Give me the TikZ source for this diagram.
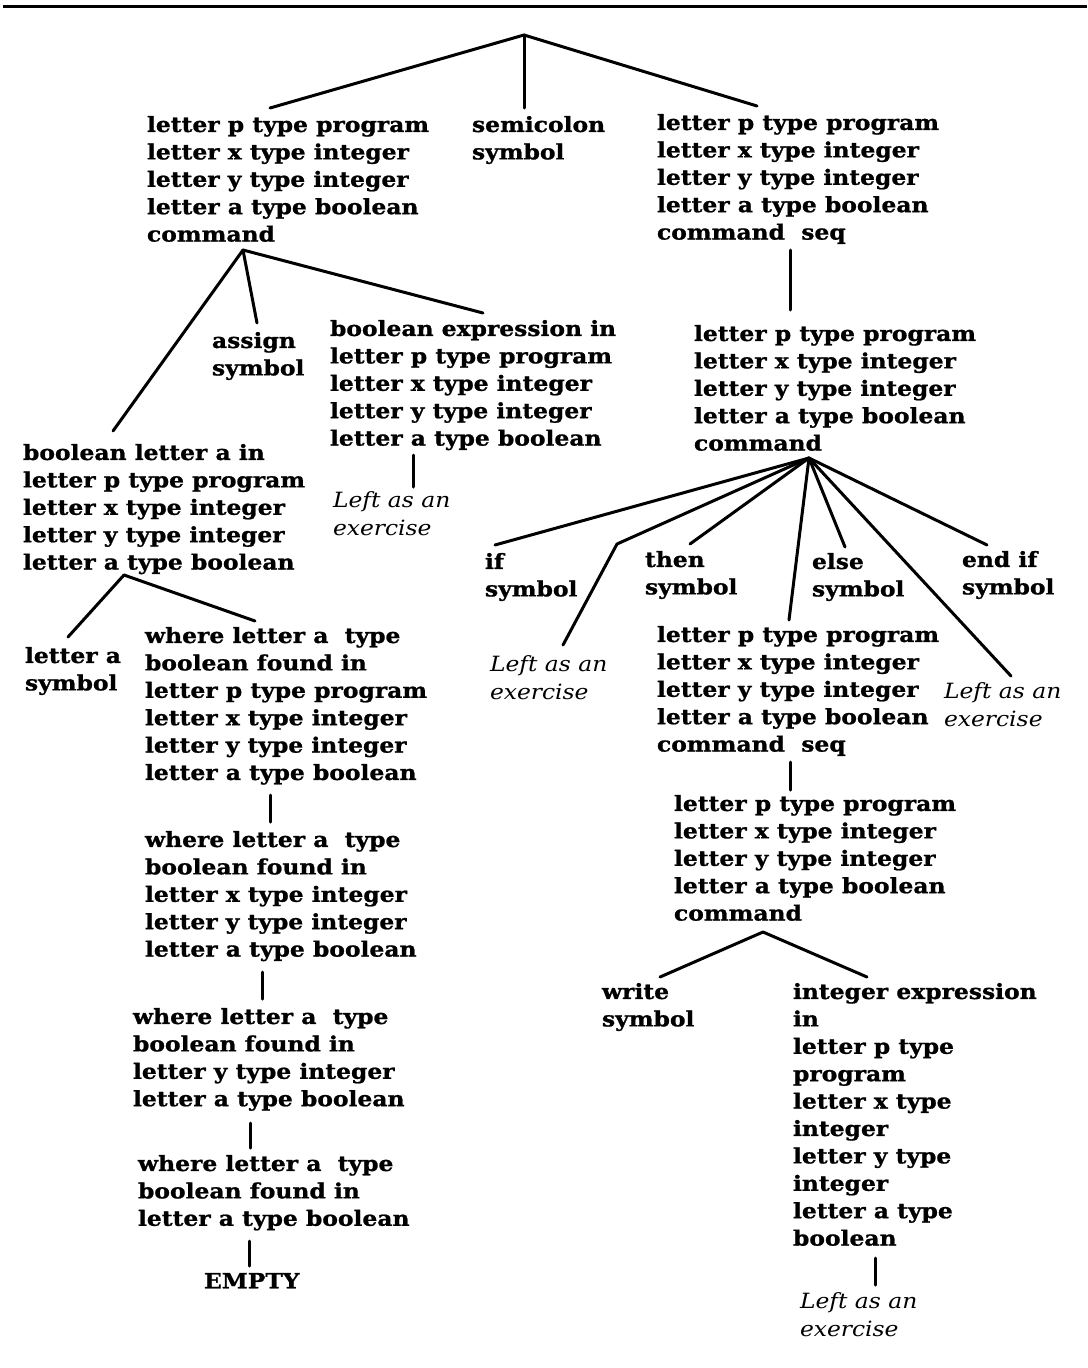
\documentclass[tikz,border=0pt]{standalone}
\usepackage{fontspec}
\setmainfont{DejaVu Serif}[FakeStretch=1.115, BoldFeatures={FakeBold=1}]
\begin{document}
\begin{tikzpicture}[x=1pt,y=-1pt,
  lbl/.style={anchor=north west, inner sep=0pt, outer sep=0pt, align=left, font=\fontsize{21}{27.4}\selectfont\bfseries},
  exer/.style={anchor=north west, inner sep=0pt, outer sep=0pt, align=left, font=\fontsize{21}{27.4}\selectfont\itshape},
  conn/.style={line width=3pt, line cap=round, line join=round}]
\fill[white] (0,0) rectangle (1087,1368);
\useasboundingbox (0,0) rectangle (1087,1368);
\coordinate (ruleL) at (3,6.5);
\coordinate (ruleR) at (1087,6.5);
\draw[line width=3.2pt] (ruleL) -- (ruleR);

% nodes
\node[lbl] (A) at (147,116) {letter p type program\\letter x type integer\\letter y type integer\\letter a type boolean\\command};
\node[lbl] (semi) at (472,116) {semicolon\\symbol};
\node[lbl] (B) at (657,114) {letter p type program\\letter x type integer\\letter y type integer\\letter a type boolean\\command\ \ seq};
\node[lbl] (assign) at (212,332) {assign\\symbol};
\node[lbl] (bexp) at (330,320) {boolean expression in\\letter p type program\\letter x type integer\\letter y type integer\\letter a type boolean};
\node[exer] (ex1) at (333,492) {Left as an\\exercise};
\node[lbl] (bla) at (23,444) {boolean letter a in\\letter p type program\\letter x type integer\\letter y type integer\\letter a type boolean};
\node[lbl] (lasym) at (25,647) {letter a\\symbol};
\node[lbl] (w1) at (145,627) {where letter a\ \ type\\boolean found in\\letter p type program\\letter x type integer\\letter y type integer\\letter a type boolean};
\node[lbl] (w2) at (145,831) {where letter a\ \ type\\boolean found in\\letter x type integer\\letter y type integer\\letter a type boolean};
\node[lbl] (w3) at (133,1008) {where letter a\ \ type\\boolean found in\\letter y type integer\\letter a type boolean};
\node[lbl] (w4) at (138,1155) {where letter a\ \ type\\boolean found in\\letter a type boolean};
\node[lbl] (empty) at (204,1273) {EMPTY};
\node[lbl] (C) at (694,325) {letter p type program\\letter x type integer\\letter y type integer\\letter a type boolean\\command};
\node[lbl] (ifs) at (485,553) {if\\symbol};
\node[lbl] (thens) at (645,551) {then\\symbol};
\node[lbl] (elses) at (812,553) {else\\symbol};
\node[lbl] (endifs) at (962,551) {end if\\symbol};
\node[exer] (ex2) at (490,656) {Left as an\\exercise};
\node[lbl] (C2) at (657,626) {letter p type program\\letter x type integer\\letter y type integer\\letter a type boolean\\command\ \ seq};
\node[exer] (ex3) at (944,683) {Left as an\\exercise};
\node[lbl] (C3) at (674,795) {letter p type program\\letter x type integer\\letter y type integer\\letter a type boolean\\command};
\node[lbl] (writes) at (602,983) {write\\symbol};
\node[lbl] (intexp) at (793,983) {integer expression\\in\\letter p type\\program\\letter x type\\integer\\letter y type\\integer\\letter a type\\boolean};
\node[exer] (ex4) at (800,1293) {Left as an\\exercise};

% connector points
\coordinate (root) at (524,35);
\coordinate (Atop) at (270,108);
\coordinate (semitop) at (524,108);
\coordinate (Btop) at (757,106);
\coordinate (Abot) at (243,250);
\coordinate (blatop) at (113,431);
\coordinate (assigntop) at (257,323);
\coordinate (bexptop) at (483,313);
\coordinate (bexpbot) at (413,455);
\coordinate (ex1top) at (413,487);
\coordinate (blabot) at (124,575);
\coordinate (lasymtop) at (68,637);
\coordinate (w1top) at (255,621);
\coordinate (w1bot) at (270,795);
\coordinate (w2top) at (270,822);
\coordinate (w2bot) at (262,972);
\coordinate (w3top) at (262,999);
\coordinate (w3bot) at (250,1123);
\coordinate (w4top) at (250,1148);
\coordinate (w4bot) at (249,1241);
\coordinate (emptytop) at (249,1266);
\coordinate (Bbot) at (790,250);
\coordinate (Ctop) at (790,310);
\coordinate (Cbot) at (809,458);
\coordinate (iftop) at (495,545);
\coordinate (bend) at (617,544);
\coordinate (ex2top) at (563,645);
\coordinate (thentop) at (690,544);
\coordinate (C2top) at (789,620);
\coordinate (elsetop) at (845,547);
\coordinate (ex3top) at (1011,676);
\coordinate (endiftop) at (987,545);
\coordinate (C2bot) at (790,762);
\coordinate (C3top) at (790,790);
\coordinate (C3bot) at (763,932);
\coordinate (writetop) at (660,977);
\coordinate (inttop) at (867,977);
\coordinate (intbot) at (875,1258);
\coordinate (ex4top) at (875,1285);

% connectors
\draw[conn] (root) -- (Atop);
\draw[conn] (root) -- (semitop);
\draw[conn] (root) -- (Btop);
\draw[conn] (Abot) -- (blatop);
\draw[conn] (Abot) -- (assigntop);
\draw[conn] (Abot) -- (bexptop);
\draw[conn] (bexpbot) -- (ex1top);
\draw[conn] (blabot) -- (lasymtop);
\draw[conn] (blabot) -- (w1top);
\draw[conn] (w1bot) -- (w2top);
\draw[conn] (w2bot) -- (w3top);
\draw[conn] (w3bot) -- (w4top);
\draw[conn] (w4bot) -- (emptytop);
\draw[conn] (Bbot) -- (Ctop);
\draw[conn] (Cbot) -- (iftop);
\draw[conn] (Cbot) -- (bend) -- (ex2top);
\draw[conn] (Cbot) -- (thentop);
\draw[conn] (Cbot) -- (C2top);
\draw[conn] (Cbot) -- (elsetop);
\draw[conn] (Cbot) -- (ex3top);
\draw[conn] (Cbot) -- (endiftop);
\draw[conn] (C2bot) -- (C3top);
\draw[conn] (C3bot) -- (writetop);
\draw[conn] (C3bot) -- (inttop);
\draw[conn] (intbot) -- (ex4top);
\end{tikzpicture}
\end{document}
